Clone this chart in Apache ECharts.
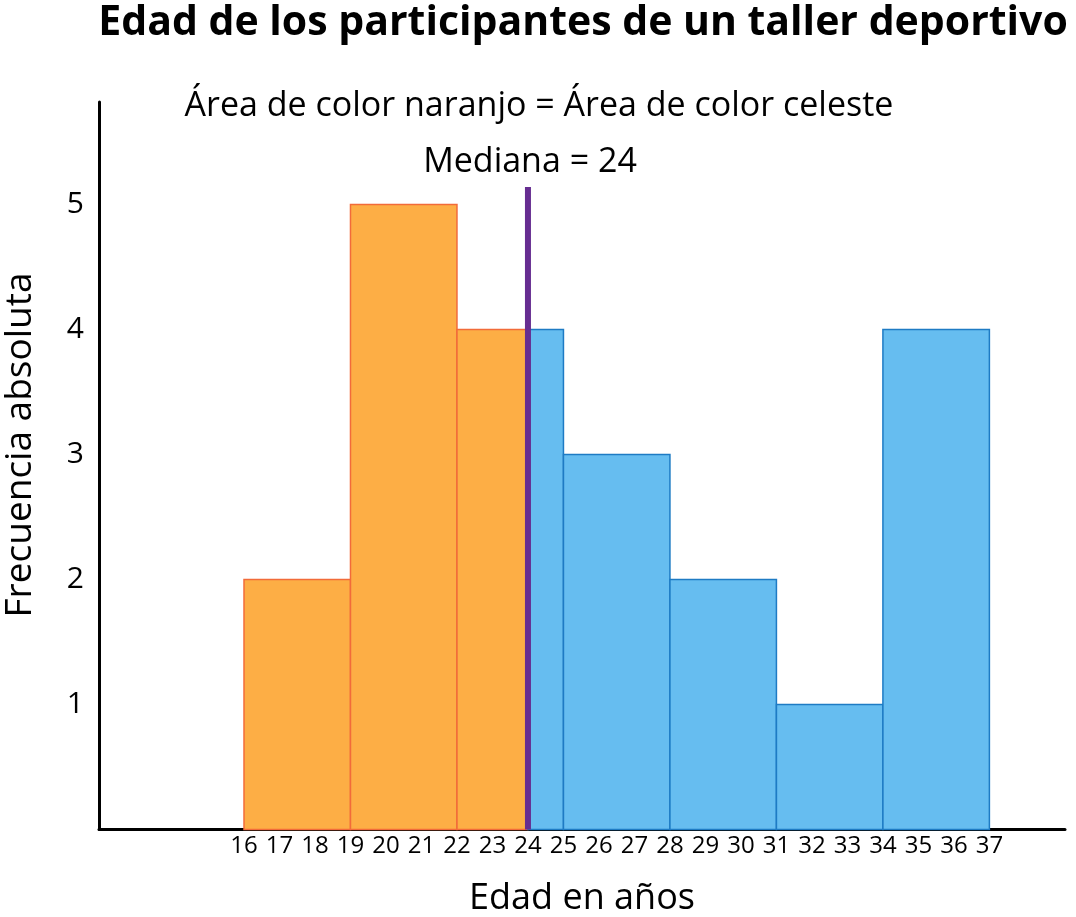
<!DOCTYPE html>
<html><head><meta charset="utf-8">
<script src="https://cdn.jsdelivr.net/npm/echarts@6/dist/echarts.min.js"></script>
<style>html,body{margin:0;padding:0;background:#fff}#c{width:1076px;height:917px}</style>
</head><body><div id="c"></div>
<script>
const chartTitle = 'Edad de los participantes de un taller deportivo';
const binEdges = [16, 19, 22, 25, 28, 31, 34, 37];
const frequencies = [2, 5, 4, 3, 2, 1, 4];
const median = 24;
const xTickLabels = [16,17,18,19,20,21,22,23,24,25,26,27,28,29,30,31,32,33,34,35,36,37];
const yTickLabels = [1, 2, 3, 4, 5];
const areaNote = 'Área de color naranjo = Área de color celeste';
const medianNote = 'Mediana = 24';
const xAxisName = 'Edad en años';
const yAxisName = 'Frecuencia absoluta';

const FONT = '"Open Sans"';
const ORANGE = '#FDAE45', ORANGE_EDGE = '#F26B3A';
const BLUE = '#66BDF0', BLUE_EDGE = '#1E7BC4';

// split bins at the median: [start, end, freq, group]
const rects = [];
for (let i = 0; i < frequencies.length; i++) {
  const s = binEdges[i], e = binEdges[i + 1], f = frequencies[i];
  if (e <= median) rects.push([s, e, f, 0]);
  else if (s >= median) rects.push([s, e, f, 1]);
  else { rects.push([s, median, f, 0]); rects.push([median, e, f, 1]); }
}

const chart = echarts.init(document.getElementById('c'), null, {renderer: 'canvas'});
chart.setOption({
  backgroundColor: '#fff',
  animation: false,
  grid: {left: 99, right: 11, top: 102, bottom: 87.5},
  xAxis: {
    type: 'value', min: 11.915, max: 39.13,
    axisLine: {show: true, onZero: false, lineStyle: {color: '#000', width: 3}},
    axisTick: {show: false},
    splitLine: {show: false},
    axisLabel: {customValues: xTickLabels, color: '#000', fontSize: 24, fontFamily: FONT, margin: 5}
  },
  yAxis: {
    type: 'value', min: 0, max: 5.82,
    axisLine: {show: true, lineStyle: {color: '#000', width: 3}},
    axisTick: {show: false},
    splitLine: {show: false},
    axisLabel: {customValues: yTickLabels, color: '#000', fontSize: 30, fontFamily: FONT, margin: 15}
  },
  series: [
    {
      type: 'custom',
      data: rects,
      encode: {x: [0, 1], y: 2},
      renderItem: function (params, api) {
        const p0 = api.coord([api.value(0), api.value(2)]);
        const p1 = api.coord([api.value(1), 0]);
        const g = api.value(3);
        return {
          type: 'rect',
          shape: {x: p0[0], y: p0[1], width: p1[0] - p0[0], height: p1[1] - p0[1]},
          style: {fill: g ? BLUE : ORANGE, stroke: g ? BLUE_EDGE : ORANGE_EDGE, lineWidth: 1.5}
        };
      }
    },
    {
      type: 'line',
      data: [[median, 0], [median, 5.14]],
      symbol: 'none',
      lineStyle: {color: '#662D91', width: 6},
      z: 5
    }
  ],
  graphic: [
    {type: 'text', x: 583, y: 23, style: {text: chartTitle, font: 'bold 41px ' + FONT, fill: '#000', textAlign: 'center', textVerticalAlign: 'middle'}},
    {type: 'text', x: 539, y: 106, style: {text: areaNote, font: '34px ' + FONT, fill: '#000', textAlign: 'center', textVerticalAlign: 'middle'}},
    {type: 'text', x: 530, y: 162, style: {text: medianNote, font: '34px ' + FONT, fill: '#000', textAlign: 'center', textVerticalAlign: 'middle'}},
    {type: 'text', x: 582, y: 899, style: {text: xAxisName, font: '36px ' + FONT, fill: '#000', textAlign: 'center', textVerticalAlign: 'middle'}},
    {type: 'text', x: 20, y: 445, rotation: Math.PI / 2, style: {text: yAxisName, font: '37px ' + FONT, fill: '#000', textAlign: 'center', textVerticalAlign: 'middle'}}
  ]
});
</script></body></html>
